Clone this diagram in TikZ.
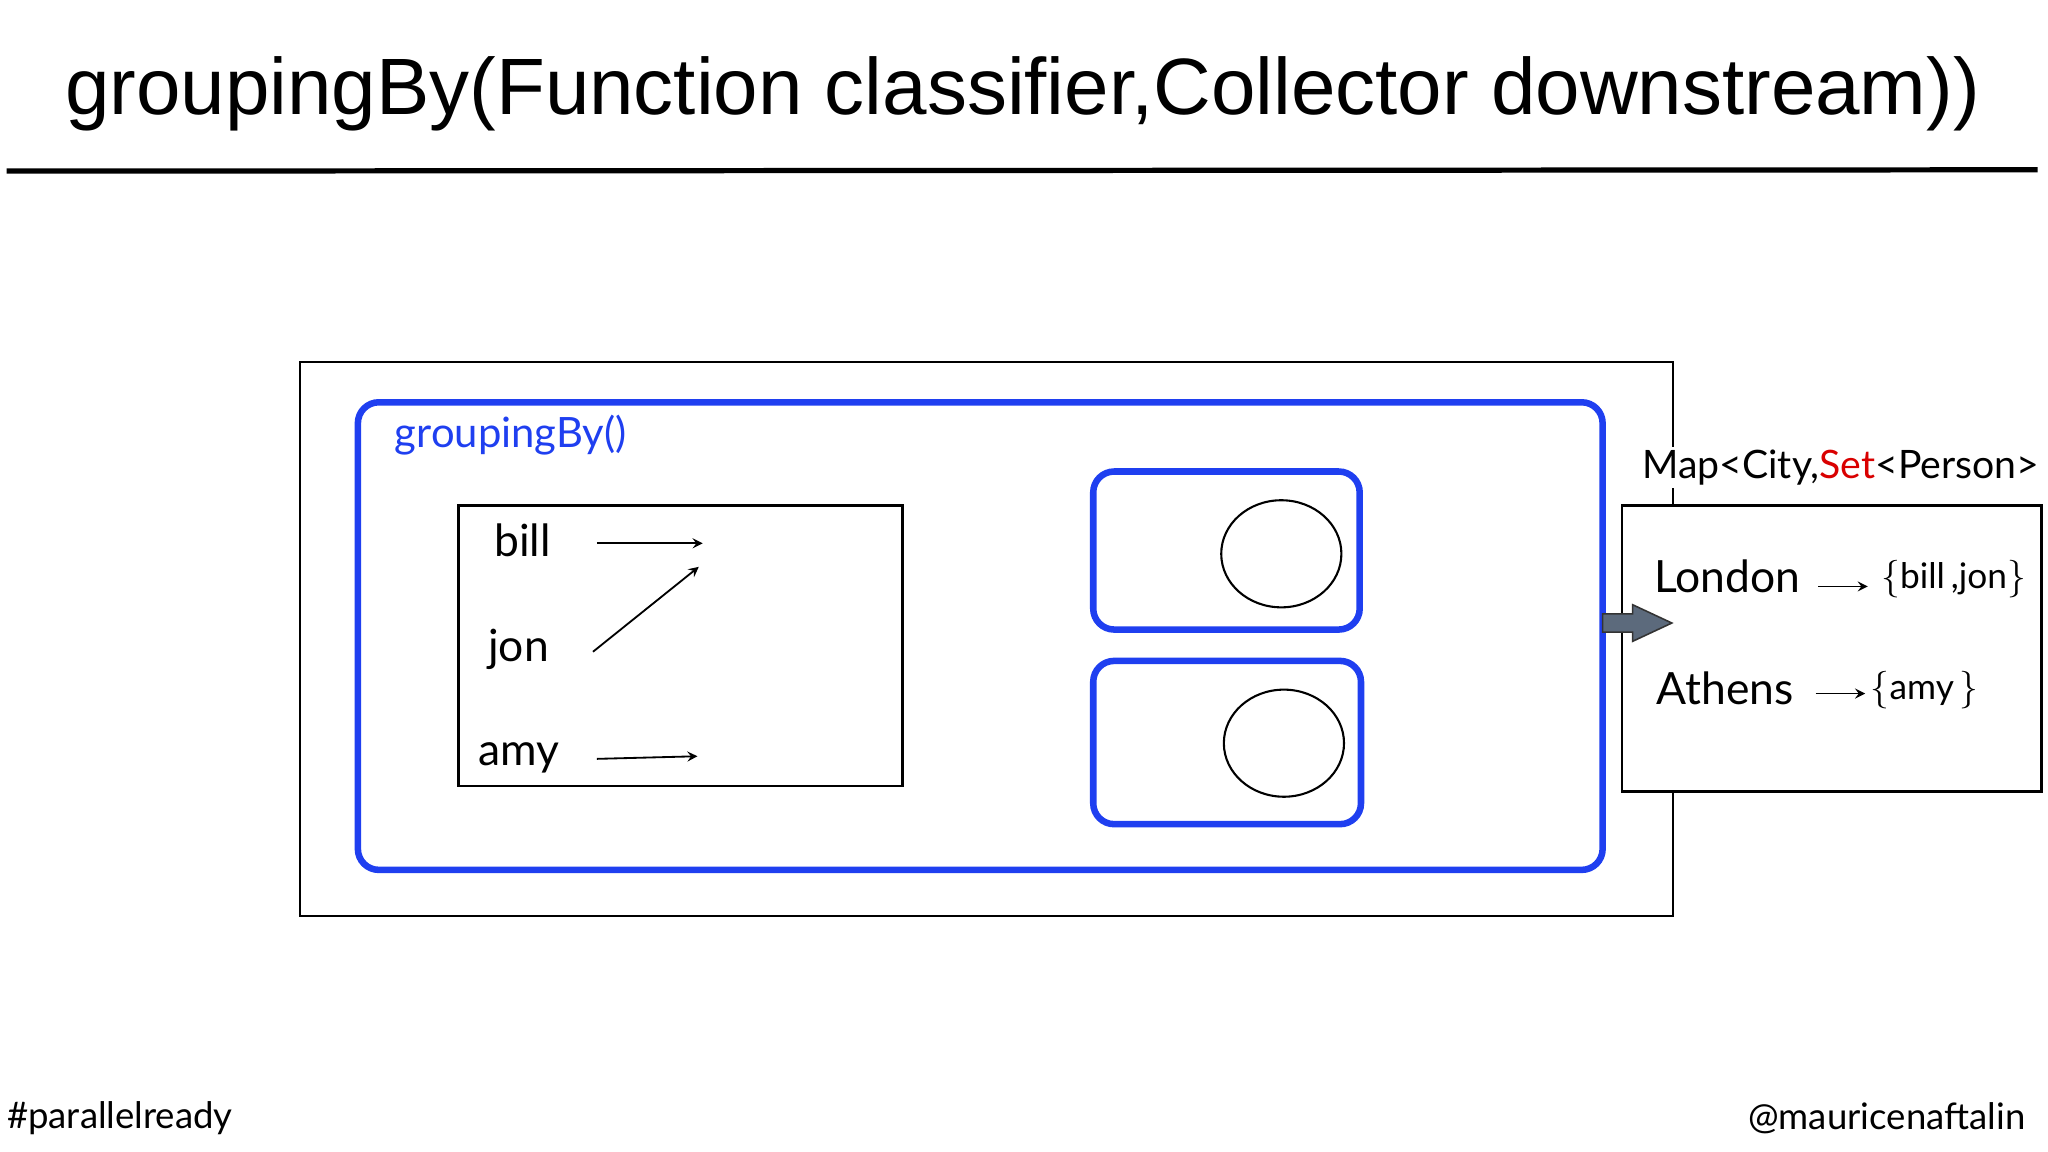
\documentclass[tikz,border=0pt]{standalone}
\usepackage{fontspec}
\usetikzlibrary{shapes.geometric}
\setmainfont{Lato}
\newfontfamily\titlefont{Liberation Sans}
\definecolor{gblue}{HTML}{1F3FF0}
\definecolor{arrgrey}{HTML}{5C6A7C}
\begin{document}
\begin{tikzpicture}[x=0.5pt,y=-0.5pt,
  bluebox/.style={draw=gblue,line width=2.5pt,rounded corners=8pt},
  thin/.style={draw=black,line width=0.8pt},
  lbl/.style={inner sep=0pt,font=\fontsize{17}{20}\selectfont},
  setl/.style={anchor=west,inner sep=0pt,font=\fontsize{13.5}{16}\selectfont},
  arr/.style={-stealth,line width=0.7pt}]
\useasboundingbox (0,0) rectangle (1568,882);
\clip (0,0) rectangle (1568,882);
\node[inner sep=0pt,font=\titlefont\fontsize{30.6}{34}\selectfont] (title) at (783,72) {groupingBy(Function classifier,Collector downstream))};
\draw[line width=2pt] (5,131) -- (1560,130);
\node[thin,minimum width=525.5pt,minimum height=212pt,inner sep=0pt] (outer) at (755.5,489) {};
\node[bluebox,minimum width=476.5pt,minimum height=179pt,inner sep=0pt] (grp) at (750.5,487) {};
\node[anchor=west,inner sep=0pt,text=gblue,font=\fontsize{16}{19}\selectfont] (glbl) at (302,333) {groupingBy()};
\node[thin,minimum width=170pt,minimum height=107.5pt,inner sep=0pt] (inner) at (521,494.5) {};
\node[lbl] (bill) at (400,414) {bill};
\node[lbl] (jon) at (397,497) {jon};
\node[lbl] (amy) at (397,580) {amy};
\coordinate (b1) at (457,416); \coordinate (b2) at (538,416);
\coordinate (j1) at (454,499); \coordinate (j2) at (535,434);
\coordinate (a1) at (457,581); \coordinate (a2) at (534,579);
\draw[arr] (b1) -- (b2);
\draw[arr] (j1) -- (j2);
\draw[arr] (a1) -- (a2);
\node[bluebox,minimum width=102pt,minimum height=60.5pt,inner sep=0pt] (d1) at (939,421.5) {};
\node[bluebox,minimum width=102.5pt,minimum height=62.5pt,inner sep=0pt] (d2) at (939.5,568.5) {};
\node[draw,ellipse,line width=0.8pt,minimum width=46pt,minimum height=41pt,inner sep=0pt] (e1) at (981,424) {};
\node[draw,ellipse,line width=0.8pt,minimum width=46pt,minimum height=41pt,inner sep=0pt] (e2) at (983,569) {};
\node[thin,fill=white,minimum width=160.5pt,minimum height=109.5pt,inner sep=0pt] (map) at (1402.5,496.5) {};
\draw[fill=arrgrey,draw=black!80,line width=0.6pt] (1227,470) -- (1250,470) -- (1250,463) -- (1280,477) -- (1250,491) -- (1250,484) -- (1227,484) -- cycle;
\node[anchor=west,inner sep=1pt,fill=white,font=\fontsize{15}{18}\selectfont] (maplbl) at (1255,358) {Map<City,\textcolor{red!85!black}{Set}<Person>};
\node[anchor=west,lbl] (london) at (1266,441) {London};
\node[setl] (lset) at (1440,443) {$\{$bill\,,jon$\}$};
\draw[arr] (1392,449) -- (1430,449);
\node[anchor=west,lbl] (athens) at (1268,527) {Athens};
\node[setl] (aset) at (1432,528) {$\{$amy\,$\}$};
\draw[arr] (1390,531) -- (1428,531);
\node[anchor=west,inner sep=0pt,font=\fontsize{14}{17}\selectfont] (hash) at (5,856) {\#parallelready};
\node[anchor=east,inner sep=0pt,font=\fontsize{14}{17}\selectfont] (at) at (1551,856) {@mauricenaftalin};
\end{tikzpicture}
\end{document}
